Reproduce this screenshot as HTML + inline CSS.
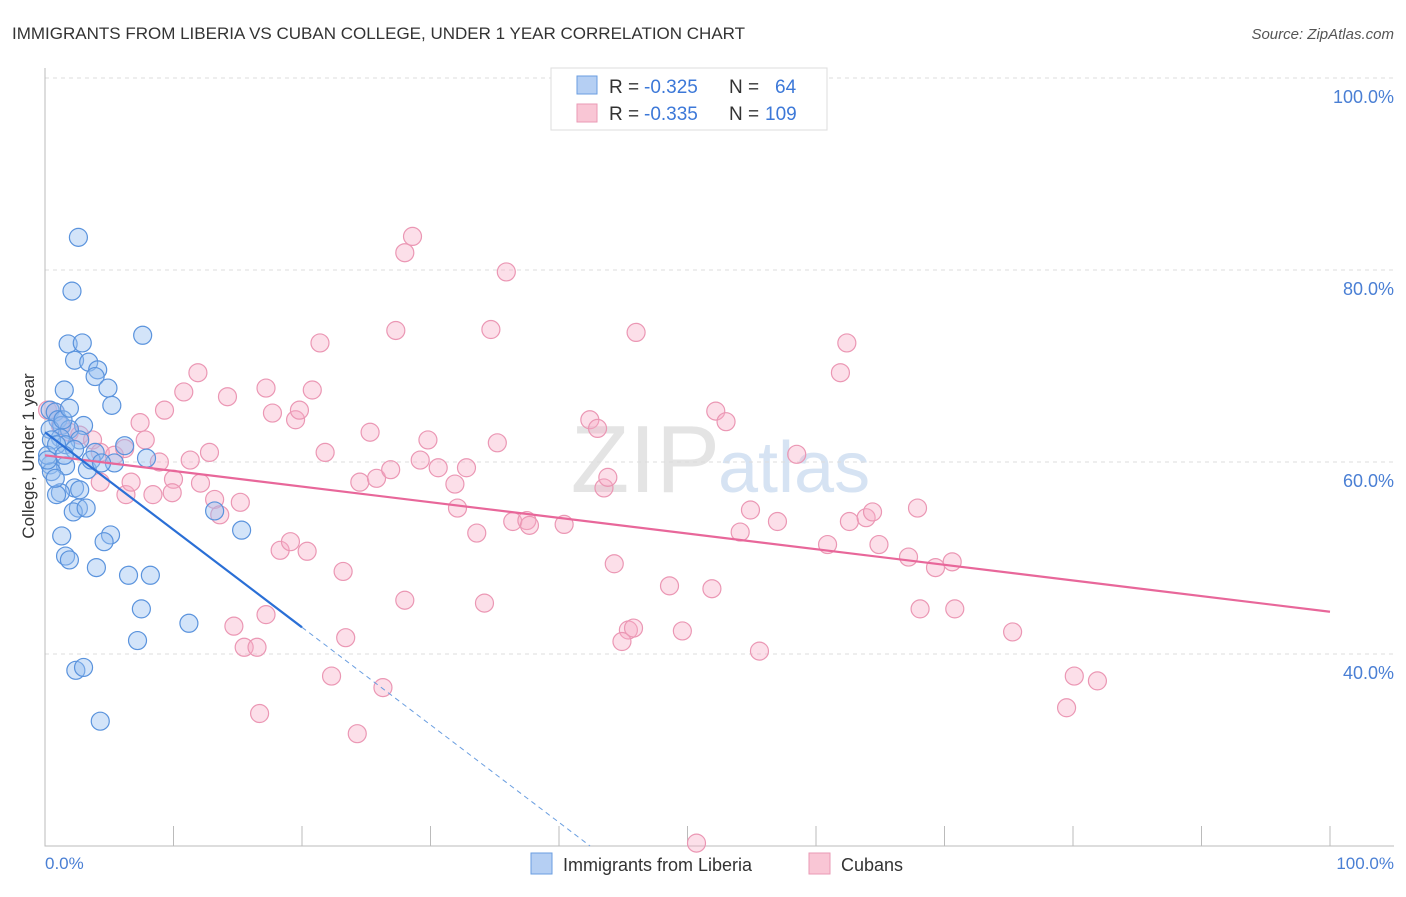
<!DOCTYPE html>
<html><head><meta charset="utf-8"><style>
body{margin:0;background:#fff;font-family:"Liberation Sans",sans-serif}
svg text{font-family:"Liberation Sans",sans-serif}
</style></head><body>
<svg id="chart" width="1406" height="892">
<text x="12" y="39" font-size="17" fill="#333">IMMIGRANTS FROM LIBERIA VS CUBAN COLLEGE, UNDER 1 YEAR CORRELATION CHART</text>
<text x="1394" y="39" font-size="15" fill="#555" font-style="italic" text-anchor="end">Source: ZipAtlas.com</text>
<text x="720" y="492" font-size="96" fill="#e4e4e4" text-anchor="end" font-family="Liberation Serif">ZIP</text>
<text x="718" y="492" font-size="72" fill="#d6e3f3">atlas</text>
<g id="grid"></g><g id="axes"></g><g id="pts"></g><g id="trends"></g>
<text transform="translate(34,456) rotate(-90)" font-size="17" fill="#333" text-anchor="middle">College, Under 1 year</text>
<text x="45" y="869" font-size="17" fill="#4a7fd4">0.0%</text>
<text x="1394" y="869" font-size="17" fill="#4a7fd4" text-anchor="end">100.0%</text>
<g>
<rect x="551" y="68" width="276" height="62" fill="#fff" stroke="#ddd"/>
<rect x="577" y="76" width="20" height="18" fill="#b5cff3" stroke="#6a9ee0"/>
<rect x="577" y="104" width="20" height="18" fill="#f9c6d5" stroke="#ea9ab5"/>
<text x="609" y="93" font-size="19" fill="#333">R =</text>
<text x="644" y="93" font-size="19" fill="#3c78d8">-0.325</text>
<text x="729" y="93" font-size="19" fill="#333">N =</text>
<text x="775" y="93" font-size="19" fill="#3c78d8">64</text>
<text x="609" y="120" font-size="19" fill="#333">R =</text>
<text x="644" y="120" font-size="19" fill="#3c78d8">-0.335</text>
<text x="729" y="120" font-size="19" fill="#333">N =</text>
<text x="765" y="120" font-size="19" fill="#3c78d8">109</text>
</g>
<g><rect x="531" y="853" width="21" height="21" fill="#b5cff3" stroke="#6a9ee0"/><text x="563" y="871" font-size="18" fill="#333">Immigrants from Liberia</text></g>
<g><rect x="809" y="853" width="21" height="21" fill="#f9c6d5" stroke="#ea9ab5"/><text x="841" y="871" font-size="18" fill="#333">Cubans</text></g>
</svg>
<script>
const yTicks=[40,60,80,100];
const yTickLabels=["40.0%","60.0%","80.0%","100.0%"];
const blueX=[2.6,2.1,7.6,1.8,2.9,2.3,3.4,4.1,3.9,4.9,1.5,5.2,0.4,0.8,1.0,1.3,3.0,0.4,1.9,1.2,2.7,1.6,2.3,3.9,6.2,7.9,5.4,0.4,1.6,3.3,0.5,2.3,1.2,2.7,0.9,2.6,2.2,3.2,13.2,15.3,1.3,5.1,4.6,1.6,1.9,4.0,6.5,8.2,7.5,11.2,7.2,2.4,3.0,4.3,0.5,0.2,0.9,1.5,3.6,4.4,0.8,0.2,1.4,1.9];
const blueY=[83.4,77.8,73.2,72.3,72.4,70.6,70.4,69.6,68.9,67.7,67.5,65.9,65.4,65.2,64.4,63.8,63.8,63.4,63.4,62.5,62.3,61.8,61.3,61.0,61.7,60.4,59.9,59.7,59.6,59.2,59.0,57.3,56.8,57.1,56.6,55.2,54.8,55.2,54.9,52.9,52.3,52.4,51.7,50.2,49.8,49.0,48.2,48.2,44.7,43.2,41.4,38.3,38.6,33.0,62.3,60.7,61.8,60.7,60.2,59.9,58.3,60.2,64.4,65.6];
const pinkX=[0.2,0.8,1.2,1.9,2.7,3.7,4.3,5.4,6.2,7.8,7.4,9.3,10.8,11.9,14.2,12.8,11.3,8.9,10.0,12.1,15.2,13.2,13.6,9.9,8.4,6.3,6.7,4.3,17.7,19.5,19.8,20.8,21.4,21.8,17.2,18.3,19.1,20.4,25.3,24.5,25.8,26.9,27.3,28.0,28.6,29.2,29.8,30.6,31.9,32.1,32.8,33.6,34.2,35.2,35.9,34.7,36.4,37.5,37.7,40.4,42.4,43.0,43.5,43.8,44.3,45.4,45.8,44.9,46.0,48.6,49.6,50.7,51.9,52.2,53.0,54.9,54.1,57.0,55.6,58.5,60.9,61.9,62.4,62.6,63.9,64.4,64.9,67.2,67.9,68.1,69.3,70.6,70.8,75.3,79.5,80.1,81.9,23.4,22.3,26.3,24.3,16.7,14.7,15.5,16.5,17.2,23.2,28.0];
const pinkY=[65.4,65.2,63.8,63.1,62.8,62.3,61.0,60.7,61.4,62.3,64.1,65.4,67.3,69.3,66.8,61.0,60.2,60.0,58.2,57.8,55.8,56.1,54.5,56.8,56.6,56.6,57.9,57.9,65.1,64.4,65.4,67.5,72.4,61.0,67.7,50.8,51.7,50.7,63.1,57.9,58.3,59.2,73.7,81.8,83.5,60.2,62.3,59.4,57.7,55.2,59.4,52.6,45.3,62.0,79.8,73.8,53.8,53.9,53.4,53.5,64.4,63.5,57.3,58.4,49.4,42.5,42.7,41.3,73.5,47.1,42.4,20.3,46.8,65.3,64.2,55.0,52.7,53.8,40.3,60.8,51.4,69.3,72.4,53.8,54.2,54.8,51.4,50.1,55.2,44.7,49.0,49.6,44.7,42.3,34.4,37.7,37.2,41.7,37.7,36.5,31.7,33.8,42.9,40.7,40.7,44.1,48.6,45.6];
const blueTrend=[63.1,-1.016];   // intercept, slope
const pinkTrend=[60.7,-0.163];
const NS="http://www.w3.org/2000/svg";
const xs=v=>45+v*12.85, ys=v=>1038-v*9.6;
function mk(t,a,p){const e=document.createElementNS(NS,t);for(const k in a)e.setAttribute(k,a[k]);p.appendChild(e);return e;}
const grid=document.getElementById('grid'),axes=document.getElementById('axes'),pts=document.getElementById('pts'),tr=document.getElementById('trends');
yTicks.forEach((t,i)=>{
 const l=mk('line',{x1:45,x2:1394,y1:ys(t),y2:ys(t),stroke:'#ddd','stroke-dasharray':'4,4'},grid);
 
 
 const tx=mk('text',{x:1394,y:ys(t)+25,'font-size':18,fill:'#4a7fd4','text-anchor':'end'},grid);
 tx.textContent=yTickLabels[i];
 
 
});
const ax=mk('path',{d:'M45,68V846H1394',stroke:'#bbb',fill:'none'},axes);


for(let i=1;i<=10;i++){const t=mk('line',{x1:xs(i*10),x2:xs(i*10),y1:826,y2:846,stroke:'#bbb'},axes);
 
 }
pinkX.forEach((x,i)=>{const c=mk('circle',{cx:xs(x),cy:ys(pinkY[i]),r:9,fill:'rgba(246,170,196,0.38)',stroke:'#eb97b4','stroke-width':1.2},pts);
 
 });
blueX.forEach((x,i)=>{const c=mk('circle',{cx:xs(x),cy:ys(blueY[i]),r:9,fill:'rgba(150,190,240,0.42)',stroke:'#5a93dd','stroke-width':1.2},pts);
 
 });
const bEnd=(blueTrend[0]-20)/-blueTrend[1];
const p1=mk('line',{x1:xs(0),y1:ys(pinkTrend[0]),x2:xs(100),y2:ys(pinkTrend[0]+pinkTrend[1]*100),stroke:'#e8679a','stroke-width':2.2},tr);


const b1=mk('line',{x1:xs(0),y1:ys(blueTrend[0]),x2:xs(20),y2:ys(blueTrend[0]+blueTrend[1]*20),stroke:'#2a6fd6','stroke-width':2.2},tr);


const b2=mk('line',{x1:xs(20),y1:ys(blueTrend[0]+blueTrend[1]*20),x2:xs(bEnd),y2:ys(20),stroke:'#6a9ee0','stroke-width':1,'stroke-dasharray':'5,4'},tr);


</script>
</body></html>
